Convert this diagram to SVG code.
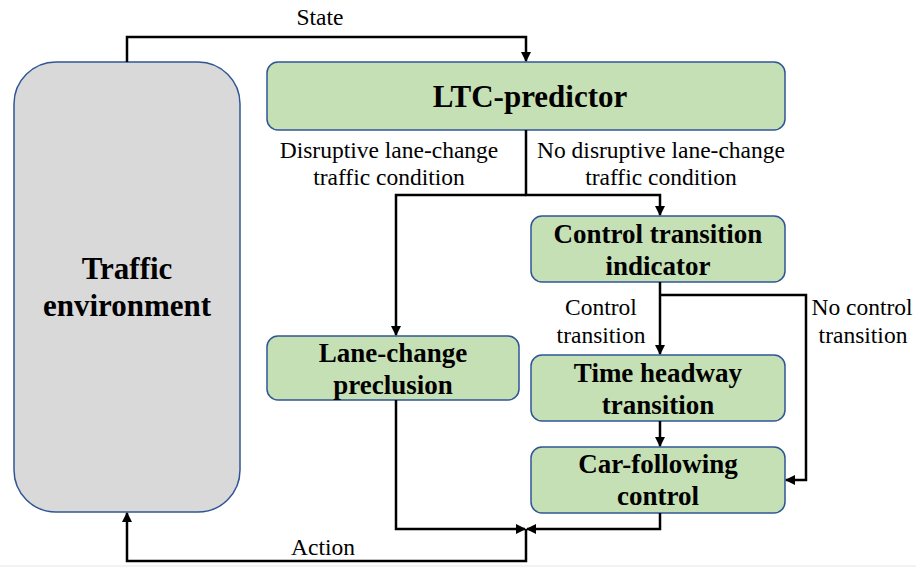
<svg xmlns="http://www.w3.org/2000/svg" width="916" height="567" viewBox="0 0 916 567">
<style>
.node{fill:#c5e0b4;stroke:#2f5597;stroke-width:1.5}
.env{fill:#d9d9d9;stroke:#2f5597;stroke-width:1.5}
.t{font-family:"Liberation Serif","Times New Roman",serif;font-weight:bold;font-size:27px;fill:#000;text-anchor:middle}
.big{font-size:31px}
.lbl{font-family:"Liberation Serif","Times New Roman",serif;font-size:23.5px;fill:#000;text-anchor:middle}
.c{fill:none;stroke:#000;stroke-width:2.5}
</style>
<defs>
<marker id="ah" markerWidth="10" markerHeight="10" refX="9" refY="5" orient="auto" markerUnits="userSpaceOnUse">
<path d="M0,0 L10,5 L0,10 Z" fill="#000"/>
</marker>
</defs>
<rect width="916" height="567" fill="#fff"/>
<rect x="0" y="565" width="916" height="2" fill="#f2f2f2"/>
<g id="env"><rect class="env" x="14" y="62" width="226" height="450" rx="42"/>
<text class="t big" x="127" y="279">Traffic</text><text class="t big" x="127" y="316">environment</text></g>
<g id="ltc"><rect class="node" x="267" y="62" width="518" height="68" rx="11"/>
<text class="t big" x="530" y="107">LTC-predictor</text></g>
<g id="cti"><rect class="node" x="531" y="216" width="254" height="66" rx="11"/>
<text class="t" x="658" y="243">Control transition</text><text class="t" x="658" y="275">indicator</text></g>
<g id="lcp"><rect class="node" x="267" y="336" width="252" height="64" rx="11"/>
<text class="t" x="393" y="362">Lane-change</text><text class="t" x="393" y="394">preclusion</text></g>
<g id="tht"><rect class="node" x="531" y="355" width="254" height="66" rx="11"/>
<text class="t" x="658" y="382">Time headway</text><text class="t" x="658" y="414">transition</text></g>
<g id="cfc"><rect class="node" x="531" y="447" width="254" height="66" rx="11"/>
<text class="t" x="658" y="473">Car-following</text><text class="t" x="658" y="505">control</text></g>
<g id="connectors">
<path class="c" d="M127,62 V37 H526 V61" marker-end="url(#ah)"/>
<path class="c" d="M526,130 V195 H660 V215" marker-end="url(#ah)"/>
<path class="c" d="M526,195 H396 V335" marker-end="url(#ah)"/>
<path class="c" d="M660,282 V354" marker-end="url(#ah)"/>
<path class="c" d="M660,295 H806 V480 H786" marker-end="url(#ah)"/>
<path class="c" d="M660,421 V446" marker-end="url(#ah)"/>
<path class="c" d="M396,400 V529 H525" marker-end="url(#ah)"/>
<path class="c" d="M660,513 V529 H527" marker-end="url(#ah)"/>
<path class="c" d="M526,529 V561 H127 V513" marker-end="url(#ah)"/>
</g>
<g id="labels">
<text class="lbl" x="320" y="25">State</text>
<text class="lbl" x="389" y="158">Disruptive lane-change</text>
<text class="lbl" x="389" y="185">traffic condition</text>
<text class="lbl" x="661" y="158">No disruptive lane-change</text>
<text class="lbl" x="661" y="185">traffic condition</text>
<text class="lbl" x="601" y="315">Control</text>
<text class="lbl" x="601" y="343">transition</text>
<text class="lbl" x="862" y="315">No control</text>
<text class="lbl" x="863" y="343">transition</text>
<text class="lbl" x="323" y="555">Action</text>
</g>
</svg>
